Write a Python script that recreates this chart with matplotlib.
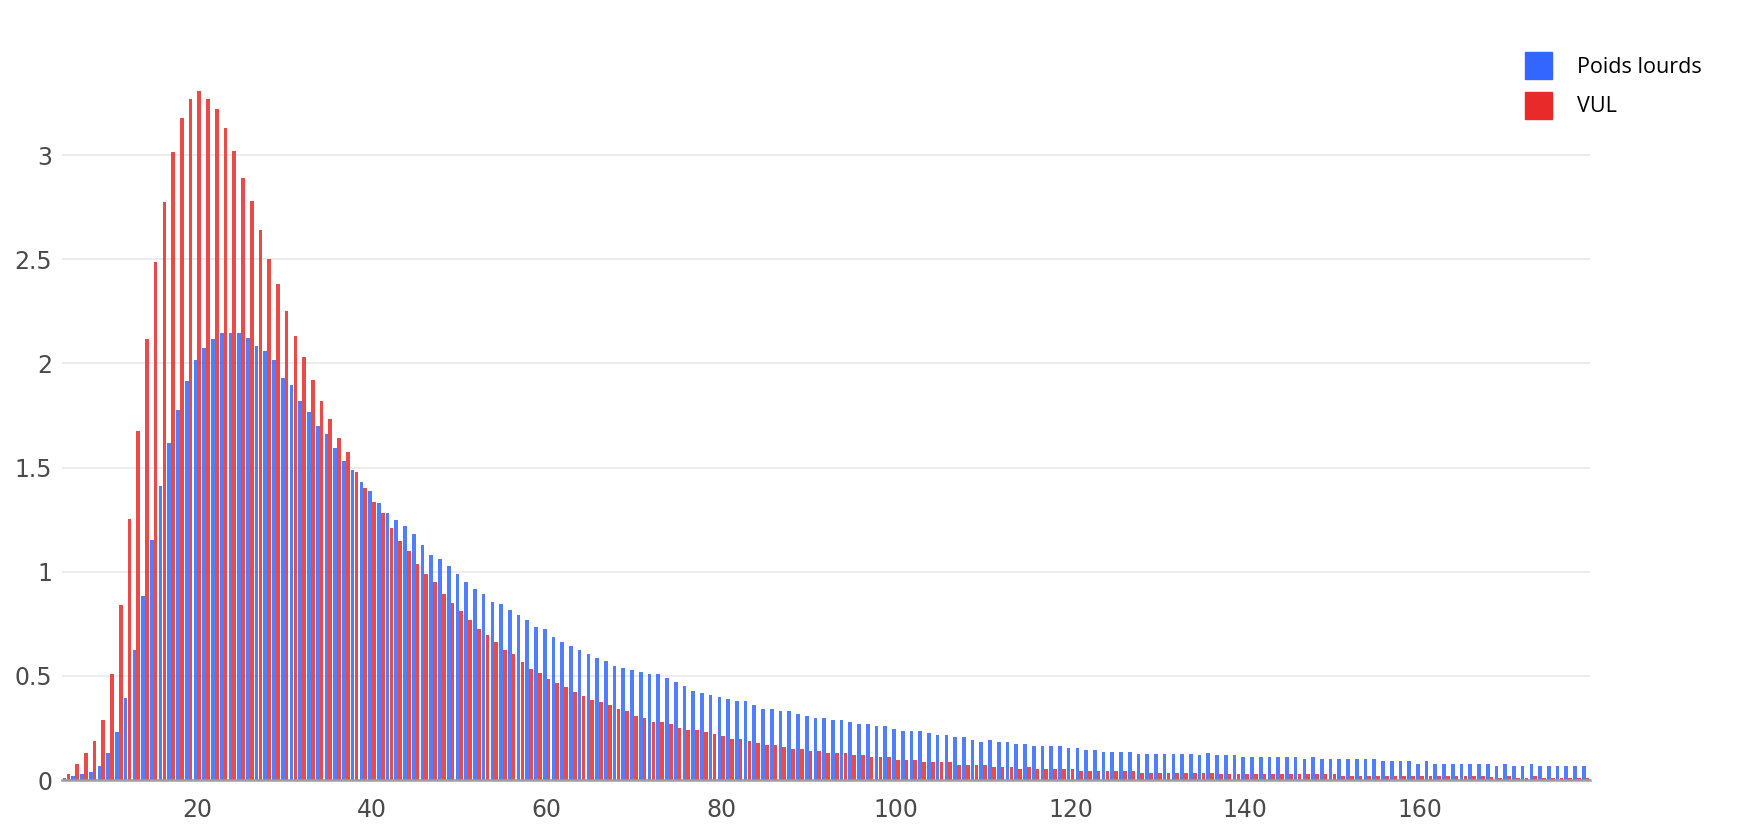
import numpy as np
import matplotlib.pyplot as plt
from matplotlib.patches import Patch

# speed classes 5..179
speeds = np.arange(5, 180)

poids_lourds = [
    0.01, 0.017, 0.028, 0.04, 0.067, 0.13, 0.23, 0.396, 0.626, 0.883,           # 5-14
    1.154, 1.41, 1.62, 1.777, 1.918, 2.015, 2.074, 2.117, 2.147, 2.147,         # 15-24
    2.147, 2.12, 2.084, 2.06, 2.015, 1.93, 1.896, 1.82, 1.766, 1.70,            # 25-34
    1.66, 1.593, 1.534, 1.49, 1.432, 1.389, 1.33, 1.28, 1.249, 1.22,            # 35-44
    1.183, 1.129, 1.08, 1.06, 1.027, 0.987, 0.95, 0.915, 0.895, 0.855,          # 45-54
    0.847, 0.818, 0.794, 0.767, 0.736, 0.727, 0.688, 0.662, 0.645, 0.625,       # 55-64
    0.606, 0.588, 0.572, 0.548, 0.537, 0.527, 0.518, 0.508, 0.508, 0.49,        # 65-74
    0.47, 0.45, 0.426, 0.417, 0.407, 0.397, 0.388, 0.378, 0.378, 0.359,         # 75-84
    0.34, 0.34, 0.33, 0.33, 0.316, 0.306, 0.296, 0.296, 0.287, 0.287,           # 85-94
    0.277, 0.268, 0.268, 0.258, 0.258, 0.247, 0.237, 0.237, 0.237, 0.228,       # 95-104
    0.218, 0.218, 0.208, 0.208, 0.194, 0.184, 0.194, 0.184, 0.184, 0.175,       # 105-114
    0.175, 0.165, 0.165, 0.165, 0.165, 0.155, 0.155, 0.146, 0.146, 0.136,       # 115-124
    0.136, 0.136, 0.136, 0.127, 0.127, 0.127, 0.127, 0.127, 0.127, 0.127,       # 125-134
    0.119, 0.128, 0.119, 0.119, 0.119, 0.109, 0.109, 0.109, 0.109, 0.109,       # 135-144
    0.109, 0.109, 0.099, 0.109, 0.099, 0.099, 0.099, 0.099, 0.099, 0.099,       # 145-154
    0.099, 0.09, 0.09, 0.09, 0.09, 0.075, 0.09, 0.075, 0.075, 0.075,            # 155-164
    0.075, 0.075, 0.075, 0.075, 0.067, 0.077, 0.067, 0.067, 0.077, 0.067,       # 165-174
    0.067, 0.067, 0.067, 0.067, 0.067,                                          # 175-179
]

vul = [
    0.028, 0.076, 0.13, 0.186, 0.286, 0.509, 0.84, 1.255, 1.678, 2.117,         # 5-14
    2.489, 2.775, 3.013, 3.18, 3.27, 3.31, 3.27, 3.22, 3.13, 3.02,              # 15-24
    2.89, 2.78, 2.64, 2.50, 2.38, 2.25, 2.13, 2.03, 1.92, 1.82,                 # 25-34
    1.735, 1.641, 1.574, 1.48, 1.40, 1.333, 1.28, 1.212, 1.148, 1.10,           # 35-44
    1.035, 0.987, 0.95, 0.895, 0.849, 0.81, 0.767, 0.727, 0.698, 0.664,         # 45-54
    0.625, 0.606, 0.567, 0.534, 0.513, 0.486, 0.465, 0.445, 0.421, 0.404,       # 55-64
    0.384, 0.375, 0.36, 0.34, 0.33, 0.306, 0.296, 0.277, 0.277, 0.268,          # 65-74
    0.248, 0.239, 0.239, 0.229, 0.22, 0.21, 0.196, 0.196, 0.186, 0.176,         # 75-84
    0.167, 0.167, 0.157, 0.147, 0.147, 0.138, 0.138, 0.128, 0.128, 0.128,       # 85-94
    0.119, 0.119, 0.109, 0.109, 0.109, 0.098, 0.098, 0.098, 0.088, 0.088,       # 95-104
    0.088, 0.088, 0.074, 0.074, 0.074, 0.074, 0.064, 0.064, 0.064, 0.054,       # 105-114
    0.064, 0.054, 0.054, 0.054, 0.054, 0.054, 0.045, 0.045, 0.045, 0.045,       # 115-124
    0.045, 0.045, 0.045, 0.036, 0.036, 0.036, 0.036, 0.036, 0.036, 0.036,       # 125-134
    0.036, 0.036, 0.027, 0.027, 0.027, 0.027, 0.027, 0.027, 0.027, 0.027,       # 135-144
    0.027, 0.027, 0.027, 0.027, 0.027, 0.027, 0.018, 0.018, 0.018, 0.018,       # 145-154
    0.018, 0.018, 0.018, 0.018, 0.018, 0.018, 0.018, 0.018, 0.018, 0.018,       # 155-164
    0.018, 0.018, 0.018, 0.015, 0.0096, 0.019, 0.0096, 0.0096, 0.019, 0.0096,   # 165-174
    0.0096, 0.0096, 0.0096, 0.0096, 0.0096,                                     # 175-179
]

labels = ['Poids lourds', 'VUL']
blue = '#3366ff'
red = '#e82a2a'

fig = plt.figure(figsize=(17.63, 8.34), dpi=100)
ax = fig.add_axes([0.0352, 0.0647, 0.8667, 0.8741])

w = 0.42
ax.bar(speeds - 0.22, poids_lourds, width=w, color=blue, alpha=0.85, linewidth=0, zorder=2)
ax.bar(speeds + 0.22, vul, width=w, color=red, alpha=0.85, linewidth=0, zorder=3)

ax.set_xlim(4.5, 179.5)
ax.set_ylim(0, 3.5)
ax.set_yticks([0, 0.5, 1, 1.5, 2, 2.5, 3])
ax.set_yticklabels(['0', '0.5', '1', '1.5', '2', '2.5', '3'])
ax.set_xticks([20, 40, 60, 80, 100, 120, 140, 160])

ax.yaxis.grid(True, color='#ebebeb', linewidth=1.3, zorder=0)
ax.set_axisbelow(True)
for s in ['top', 'right', 'left']:
    ax.spines[s].set_visible(False)
ax.spines['bottom'].set_color('#9e9e9e')
ax.spines['bottom'].set_linewidth(1.8)
ax.spines['bottom'].set_zorder(5)

ax.tick_params(axis='both', length=0, labelsize=17, labelcolor='#4a4a4a')
ax.tick_params(axis='y', pad=7)
ax.tick_params(axis='x', pad=13)

handles = [Patch(color=blue), Patch(color=red)]
fig.legend(handles, labels, loc='upper left', bbox_to_anchor=(1525 / 1763, 1 - 52 / 834),
           frameon=False, prop={'family': 'Open Sans', 'size': 15.5},
           handlelength=1.25, handleheight=1.55, handletextpad=1.15,
           labelspacing=0.6, borderpad=0, borderaxespad=0)

fig.savefig('out.png', dpi=100)
